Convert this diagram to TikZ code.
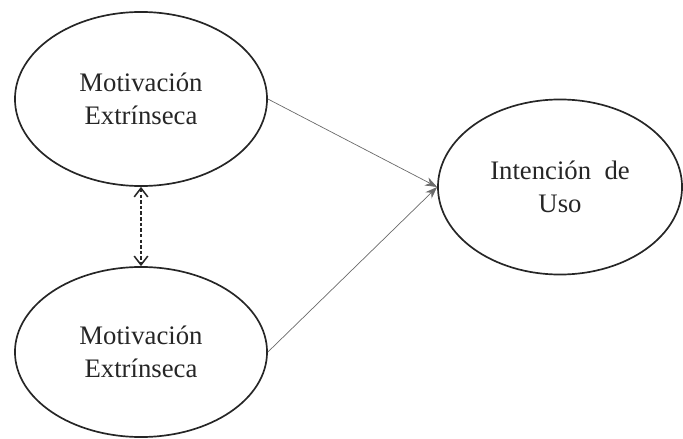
\documentclass[tikz,border=0pt]{standalone}
\usepackage{fontspec}
\setmainfont{Liberation Serif}
\usepackage{xcolor}
\usepackage{tikz}
\usetikzlibrary{positioning,calc,arrows.meta,shapes.geometric}
\definecolor{MInk}{HTML}{262626}
\definecolor{MLine}{HTML}{6A6A6A}

\begin{document}
\begin{tikzpicture}[x=0.025cm,y=-0.025cm,
  every node/.style={align=center},
  construct/.style={ellipse, draw=MInk, line width=1.2pt, inner sep=0pt,
    text=MInk, font=\fontsize{19}{23}\selectfont},
  path/.style={draw=MLine, line width=0.5pt, -{Stealth[length=3mm,width=2.2mm]}},
  covar/.style={draw=MInk, line width=1.1pt, dash pattern=on 2.5pt off 1.5pt,
    {Straight Barb[length=2.2mm,width=3.4mm]}-{Straight Barb[length=2.2mm,width=3.4mm]}}]
\useasboundingbox (0,0) rectangle (683,439);
% constructs
\node[construct, minimum width=6.3cm, minimum height=4.35cm] (motA) at (141,99)
     {Motivación\\Extrínseca};
\node[construct, minimum width=6.3cm, minimum height=4.25cm] (motB) at (141,352)
     {Motivación\\Extrínseca};
\node[construct, minimum width=6.1cm, minimum height=4.375cm] (uso) at (560,187)
     {Intención\ \ de\\Uso};
% paths
\draw[path] (motA.east) -- (uso.west);
\draw[path] (motB.east) -- (uso.west);
\draw[covar] (motA.south) -- (motB.north);
\end{tikzpicture}
\end{document}
